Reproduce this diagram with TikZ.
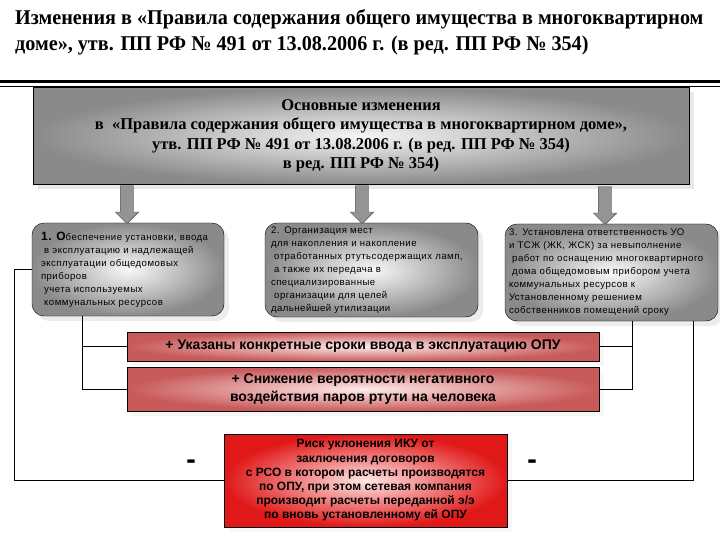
\documentclass[tikz,border=0pt]{standalone}
\usepackage{fontspec}
\setmainfont{Liberation Serif}
\setsansfont{Liberation Sans}
\newfontfamily\narrowserif[FakeStretch=0.96]{Liberation Serif}
\newfontfamily\widesans[LetterSpace=5]{Liberation Sans}
\newfontfamily\dashfont{DejaVu Sans}
\usetikzlibrary{shapes.geometric, shapes.arrows, arrows.meta, positioning, calc, shadows}
\definecolor{edgegray}{HTML}{8A8A8A}
\definecolor{arrowgray}{HTML}{949494}
\definecolor{pluscolor}{HTML}{C85A5A}
\definecolor{riskred}{HTML}{E01818}
\tikzset{
    mainbox/.style={rectangle, draw=black, minimum width=656pt, minimum height=97pt, inner color=gray!8, outer color=edgegray, drop shadow={shadow xshift=5pt, shadow yshift=-5pt, fill=gray!35}, align=center, font=\bfseries\fontsize{16.5}{19.5}\selectfont},
    pointbox/.style={rectangle, rounded corners=12pt, draw=black, inner color=gray!5, outer color=edgegray, drop shadow={shadow xshift=5pt, shadow yshift=-5pt, fill=gray!30}, align=left, text width=#1, font=\widesans\fontsize{9.6}{13}\selectfont},
    plusbox/.style={rectangle, draw=black, minimum width=472pt, inner color=red!8, outer color=pluscolor, drop shadow={shadow xshift=5pt, shadow yshift=-5pt, fill=gray!12}, align=center, font=\sffamily\bfseries\fontsize{14}{20}\selectfont},
    riskbox/.style={rectangle, draw=black, minimum width=283pt, minimum height=93pt, inner color=red!10, outer color=riskred, drop shadow={shadow xshift=5pt, shadow yshift=-5pt, fill=gray!12}, align=center, font=\sffamily\bfseries\fontsize{12}{14.2}\selectfont},
    bigarrow/.style={single arrow, shape border rotate=270, draw=black!70, fill=arrowgray, inner sep=6.5pt, single arrow head extend=5pt, minimum height=38pt},
    link/.style={draw=black, line width=0.8pt},
    minus/.style={font=\dashfont\bfseries\fontsize{24}{24}\selectfont}
}
\begin{document}
\begin{tikzpicture}[x=1pt, y=-1pt]
        \useasboundingbox (0,0) rectangle (720,540);
        % Title
        \node (title) [anchor=north west, align=left, inner sep=0pt, font=\narrowserif\bfseries\fontsize{21}{26}\selectfont] at (15,9) {
            Изменения в «Правила содержания общего имущества в многоквартирном\\
            доме», утв. ПП РФ № 491 от 13.08.2006 г. (в ред. ПП РФ № 354)
        };
        \draw[line width=3.5pt] (0,81.5) -- (720,81.5);
        \draw[line width=0.8pt] (0,86) -- (720,86);

        % Main changes
        \node (main) [mainbox] at (361,136) {
            Основные изменения\\
            в\ \ «Правила содержания общего имущества в многоквартирном доме»,\\
            утв. ПП РФ № 491 от 13.08.2006 г. (в ред. ПП РФ № 354)\\
            в ред. ПП РФ № 354)
        };

        % Arrows down
        \node (a1) [bigarrow, anchor=tip] at (127,224) {};
        \node (a2) [bigarrow, anchor=tip] at (362,224) {};
        \node (a3) [bigarrow, anchor=tip] at (605,225) {};

        % Points
        \node (b1) [pointbox=174pt, inner xsep=9pt, minimum width=192pt, minimum height=93pt] at (128,269.5) {
            {\fontsize{12}{13}\selectfont\bfseries 1. О}беспечение установки, ввода\\
            \ в эксплуатацию и надлежащей\\
            эксплуатации общедомовых\\
            приборов\\
            \ учета используемых\\
            \ коммунальных ресурсов
        };
        \node (b2) [pointbox=201pt, inner xsep=6pt, minimum width=213pt, minimum height=94pt] at (371.5,270) {
            2. Организация мест\\
            для накопления и накопление\\
            \ отработанных ртутьсодержащих ламп,\\
            \ а также их передача в\\
            специализированные\\
            \ организации для целей\\
            дальнейшей утилизации
        };
        \node (b3) [pointbox=205pt, inner xsep=4pt, minimum width=213pt, minimum height=97pt] at (611.5,272.5) {
            3. Установлена ответственность УО\\
            и ТСЖ (ЖК, ЖСК) за невыполнение\\
            \ работ по оснащению многоквартирного\\
            \ дома общедомовым прибором учета\\
            коммунальных ресурсов к\\
            Установленному решением\\
            собственников помещений сроку
        };

        % Pluses
        \node (p1) [plusbox, minimum height=29pt] at (363,346.5) {+ Указаны конкретные сроки ввода в эксплуатацию ОПУ};
        \node (p2) [plusbox, minimum height=44pt, font=\sffamily\bfseries\fontsize{14}{18}\selectfont] at (363,389) {
            + Снижение вероятности негативного\\
            воздействия паров ртути на человека
        };

        % Risk
        \node (risk) [riskbox] at (365.5,480.5) {
            Риск уклонения ИКУ от\\
            заключения договоров\\
            с РСО в котором расчеты производятся\\
            по ОПУ, при этом сетевая компания\\
            производит расчеты переданной э/э\\
            по вновь установленному ей ОПУ
        };
        \node (m1) [minus] at (191,464) {-};
        \node (m2) [minus] at (532,464) {-};

        % Connections
        \coordinate (lb) at (82,0);
        \coordinate (rb) at (632,0);
        \coordinate (lcorner) at (14,0);
        \coordinate (rcorner) at (693,0);
        \draw[link] (lb |- b1.south) |- (p1.west);
        \draw[link] (lb |- b1.south) |- (p2.west);
        \draw[link] (rb |- b3.south) |- (p1.east);
        \draw[link] (rb |- b3.south) |- (p2.east);
        \draw[link] (b1.west) -| (lcorner |- risk.west) -- (risk.west);
        \draw[link] (rcorner |- b3.south) |- (risk.east);
    \end{tikzpicture}
\end{document}
